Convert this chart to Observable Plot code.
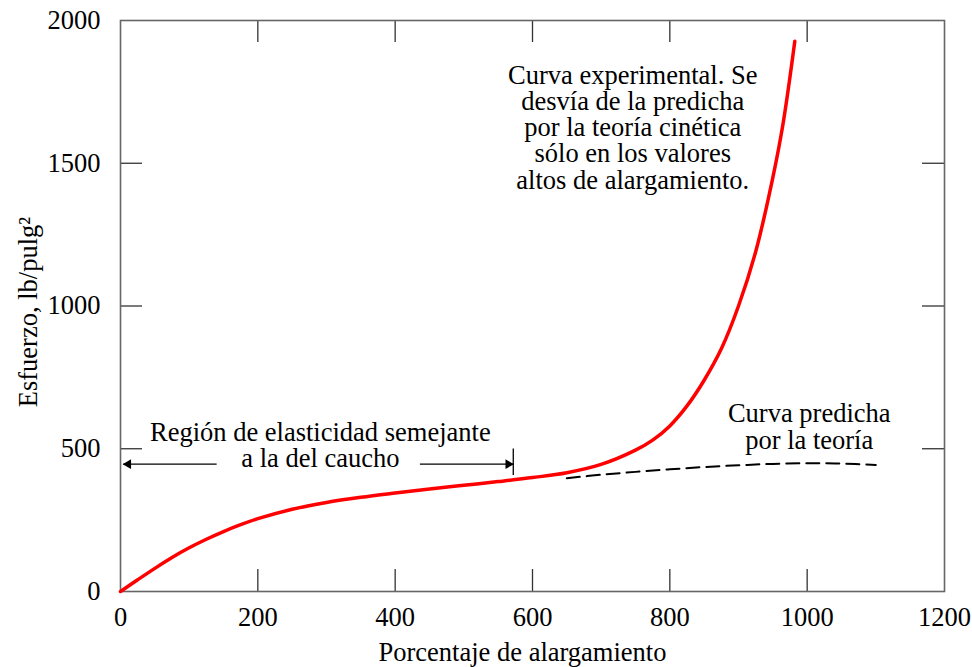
<!DOCTYPE html>
<html>
<head>
<meta charset="utf-8">
<script src="https://cdn.jsdelivr.net/npm/d3@7"></script>
<script src="https://cdn.jsdelivr.net/npm/@observablehq/plot@0.6"></script>
<style>
  html, body { margin: 0; padding: 0; background: #fff; }
  #chart { width: 972px; height: 667px; }
  #chart svg text { font-family: "Liberation Serif", "Times New Roman", serif; }
</style>
</head>
<body>
<div id="chart"></div>
<script>
// Experimental curve (red)
const expX = [0, 25, 50, 75, 100, 125, 150, 175, 200, 250, 300, 350, 400, 450, 500, 550, 600, 650, 700, 750, 775, 800, 825, 850, 875, 900, 925, 950, 965, 982];
const expY = [0, 41, 81, 119, 153, 183, 210, 234, 255, 288, 312, 330, 345, 359, 372, 385, 399, 416, 445, 495, 530, 580, 650, 740, 850, 1000, 1190, 1450, 1640, 1927];
// Theoretical curve (dashed)
const theoX = [650, 700, 750, 800, 850, 900, 950, 1000, 1050, 1100];
const theoY = [397, 409, 419, 428, 436, 442, 447, 449, 448, 443];
// Axis ticks
const xTicks = [0, 200, 400, 600, 800, 1000, 1200];
const yTicks = [0, 500, 1000, 1500, 2000];
const xInnerTicks = [200, 400, 600, 800, 1000];
const yInnerTicks = [500, 1000, 1500];
// Labels
const xLabel = "Porcentaje de alargamiento";
const yLabel = "Esfuerzo, lb/pulg²";
// Annotations
const notes = [
  {x: 746, y: 1624, text: "Curva experimental. Se\ndesvía de la predicha\npor la teoría cinética\nsólo en los valores\naltos de alargamiento."},
  {x: 1003, y: 576, text: "Curva predicha\npor la teoría"},
  {x: 291, y: 512, text: "Región de elasticidad semejante\na la del caucho"}
];
// Region arrows
const arrowY = 446;
const leftArrow = [140, 4];
const rightArrow = [436, 572];
const barX = 572;
const barY = [408, 501];

const expData = expX.map((x, i) => ({x, y: expY[i]}));
const theoData = theoX.map((x, i) => ({x, y: theoY[i]}));
const arrowLines = [
  {x1: leftArrow[0], x2: leftArrow[1], y: arrowY},
  {x1: rightArrow[0], x2: rightArrow[1], y: arrowY}
];

const FONT = '"Liberation Serif", "Times New Roman", serif';
const FS = 26.5;

const chart = Plot.plot({
  width: 972,
  height: 667,
  marginLeft: 120,
  marginRight: 28,
  marginTop: 20,
  marginBottom: 76,
  style: {fontFamily: FONT, fontSize: FS + "px", color: "#000", background: "#fff"},
  x: {domain: [0, 1200]},
  y: {domain: [0, 2000]},
  marks: [
    Plot.axisX({ticks: xTicks, tickFormat: d3.format("d"), tickSize: 0, tickPadding: 16, label: null, fontSize: FS, fontFamily: FONT}),
    Plot.axisY({ticks: yTicks, tickFormat: d3.format("d"), tickSize: 0, tickPadding: 20, label: null, fontSize: FS, fontFamily: FONT}),
    // inward ticks
    Plot.tickX(xInnerTicks, {x: d => d, insetTop: 549, stroke: "#333", strokeWidth: 1.3}),
    Plot.tickX(xInnerTicks, {x: d => d, insetBottom: 549, stroke: "#333", strokeWidth: 1.3}),
    Plot.tickY(yInnerTicks, {y: d => d, insetRight: 802, stroke: "#333", strokeWidth: 1.3}),
    Plot.tickY(yInnerTicks, {y: d => d, insetLeft: 802, stroke: "#333", strokeWidth: 1.3}),
    Plot.frame({stroke: "#666", strokeWidth: 1.6}),
    // curves
    Plot.line(theoData, {x: "x", y: "y", stroke: "#000", strokeWidth: 2, strokeDasharray: "13,7", curve: "catmull-rom"}),
    Plot.line(expData, {x: "x", y: "y", stroke: "#ff0000", strokeWidth: 3.5, curve: "catmull-rom"}),
    // region arrows
    Plot.link(arrowLines, {x1: "x1", x2: "x2", y1: "y", y2: "y", stroke: "#000", strokeWidth: 1.3}),
    Plot.dot([{x: leftArrow[1], y: arrowY}], {x: "x", y: "y", rotate: -90, dx: 5, symbol: "triangle", r: 3.6, fill: "#000", stroke: "none"}),
    Plot.dot([{x: rightArrow[1], y: arrowY}], {x: "x", y: "y", rotate: 90, dx: -5, symbol: "triangle", r: 3.6, fill: "#000", stroke: "none"}),
    Plot.link([{x: barX, y1: barY[0], y2: barY[1]}], {x1: "x", x2: "x", y1: "y1", y2: "y2", stroke: "#000", strokeWidth: 1.3}),
    // annotations
    Plot.text(notes, {x: "x", y: "y", text: "text", fontSize: FS, fontFamily: FONT, lineHeight: 0.99, textAnchor: "middle", lineAnchor: "middle", fill: "#000"}),
    // axis labels
    Plot.text([xLabel], {text: d => d, frameAnchor: "bottom", dx: -10, dy: 61, lineAnchor: "middle", fontSize: FS, fontFamily: FONT, fill: "#000"}),
    Plot.text([yLabel], {text: d => d, frameAnchor: "left", rotate: -90, dx: -92, dy: 6, lineAnchor: "middle", textAnchor: "middle", fontSize: FS, fontFamily: FONT, fill: "#000"})
  ]
});
document.getElementById("chart").appendChild(chart);
</script>
</body>
</html>
